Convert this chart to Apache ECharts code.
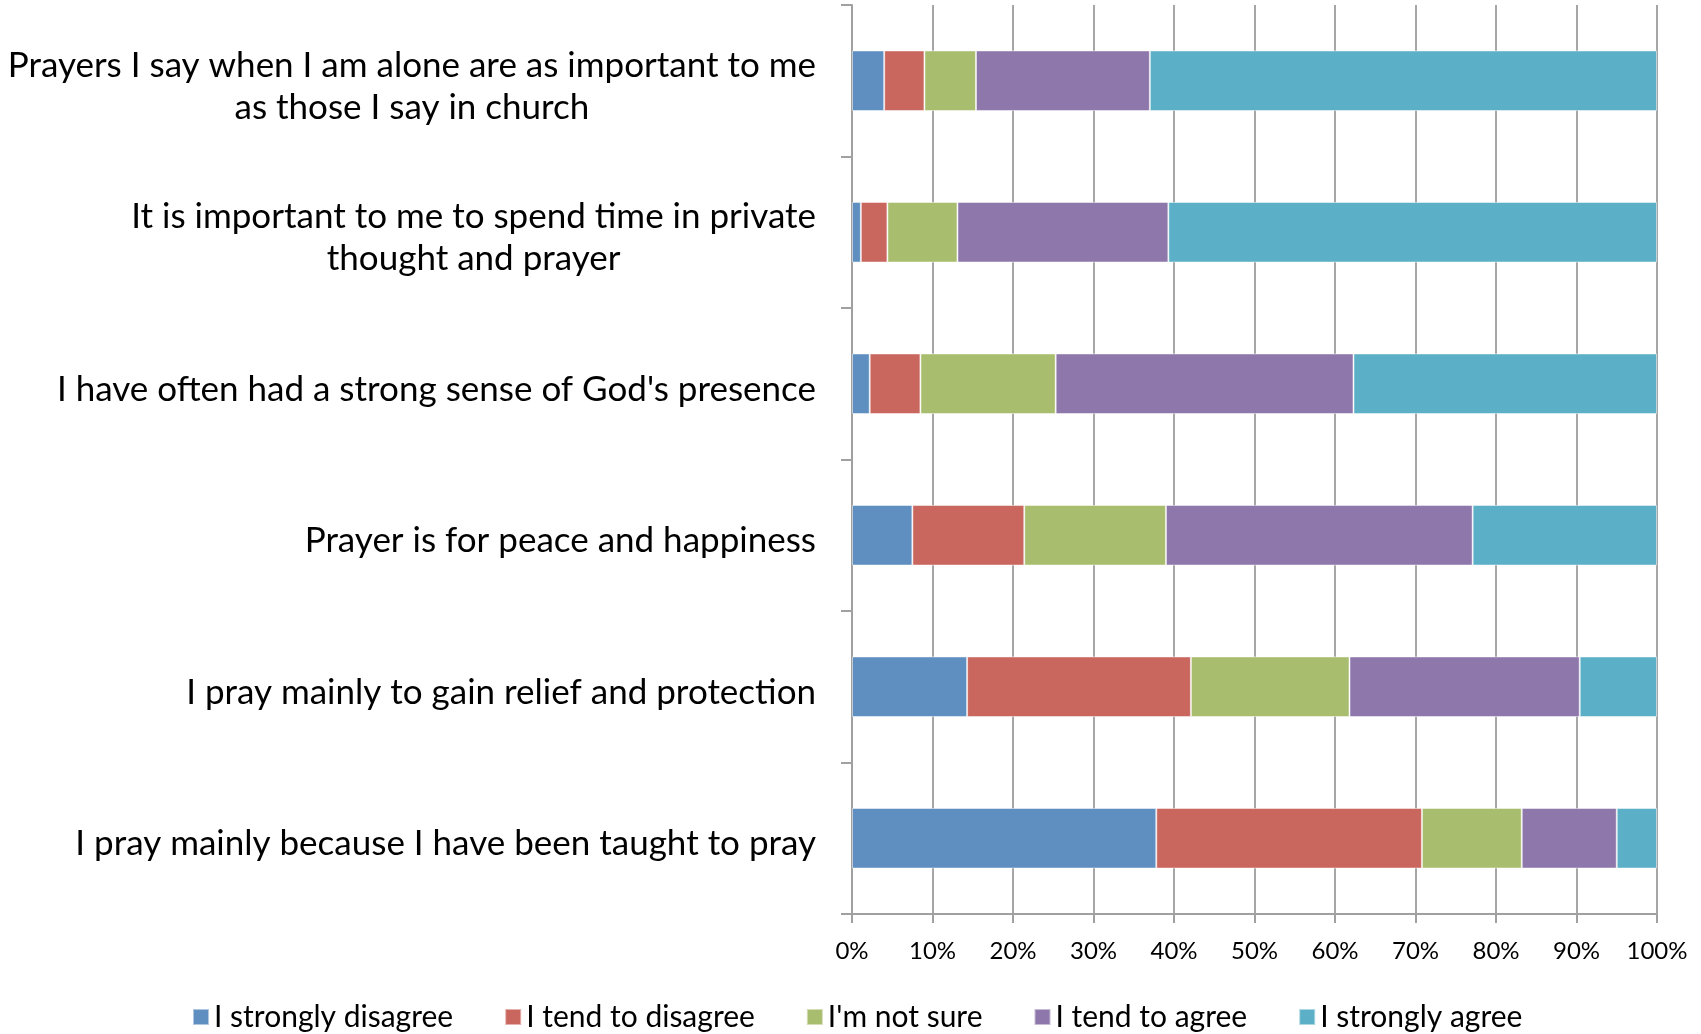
<!DOCTYPE html>
<html>
<head>
<meta charset="utf-8">
<script src="https://cdn.jsdelivr.net/npm/echarts@6/dist/echarts.min.js"></script>
<style>
  html, body { margin: 0; padding: 0; background: #fff; }
  #main { width: 1701px; height: 1034px; }
</style>
</head>
<body>
<div id="main"></div>
<script>
var categories = [
    'Prayers I say when I am alone are as important to me\nas those I say in church',
    'It is important to me to spend time in private\nthought and prayer',
    "I have often had a strong sense of God's presence",
    'Prayer is for peace and happiness',
    'I pray mainly to gain relief and protection',
    'I pray mainly because I have been taught to pray'
];
var seriesNames = ['I strongly disagree', 'I tend to disagree', "I'm not sure", 'I tend to agree', 'I strongly agree'];
var stronglyDisagree = [4.0, 1.1, 2.2, 7.5, 14.3, 37.8];
var tendDisagree     = [5.0, 3.3, 6.3, 13.9, 27.8, 33.0];
var notSure          = [6.4, 8.7, 16.8, 17.6, 19.7, 12.4];
var tendAgree        = [21.6, 26.2, 37.0, 38.1, 28.6, 11.8];
var stronglyAgree    = [63.0, 60.7, 37.7, 22.9, 9.6, 5.0];
var colors = ['#5F8FC0', '#C9665E', '#A8BD6D', '#8E77AB', '#5BAFC6'];

var font = 'Lato';
var chart = echarts.init(document.getElementById('main'));

var values = [stronglyDisagree, tendDisagree, notSure, tendAgree, stronglyAgree];
var series = [];
for (var i = 0; i < values.length; i++) {
    series.push({
        name: seriesNames[i],
        type: 'bar',
        stack: 'all',
        barWidth: '40%',
        itemStyle: { color: colors[i], borderColor: 'rgba(255,255,255,0.5)', borderWidth: 1 },
        data: values[i]
    });
}

chart.setOption({
    animation: false,
    color: colors,
    grid: { left: 852, right: 44, top: 5, bottom: 120 },
    legend: {
        left: 187,
        top: 997,
        itemWidth: 16,
        itemHeight: 16,
        itemGap: 51,
        icon: 'rect',
        textStyle: { fontFamily: font, fontSize: 30, color: '#000' },
        data: seriesNames
    },
    xAxis: {
        type: 'value',
        min: 0,
        max: 100,
        interval: 10,
        axisLine: { show: true, lineStyle: { color: '#A0A0A0', width: 2 } },
        axisTick: { show: true, length: 9, lineStyle: { color: '#A0A0A0', width: 2 } },
        splitLine: { show: true, lineStyle: { color: '#A6A6A6', width: 2 } },
        axisLabel: {
            formatter: '{value}%',
            fontFamily: font,
            fontSize: 24,
            color: '#000',
            margin: 25
        }
    },
    yAxis: {
        type: 'category',
        inverse: true,
        data: categories,
        axisLine: { show: true, lineStyle: { color: '#A0A0A0', width: 2 } },
        axisTick: { show: true, length: 11, lineStyle: { color: '#A0A0A0', width: 2 } },
        axisLabel: {
            align: 'right',
            margin: 36,
            padding: [11, 0, 0, 0],
            formatter: function (v) {
                return v.split('\n').map(function (s) { return '{c|' + s + '}'; }).join('\n');
            },
            rich: {
                c: { fontFamily: font, fontSize: 35, lineHeight: 42, color: '#000', align: 'center' }
            }
        }
    },
    series: series
});
</script>
</body>
</html>
